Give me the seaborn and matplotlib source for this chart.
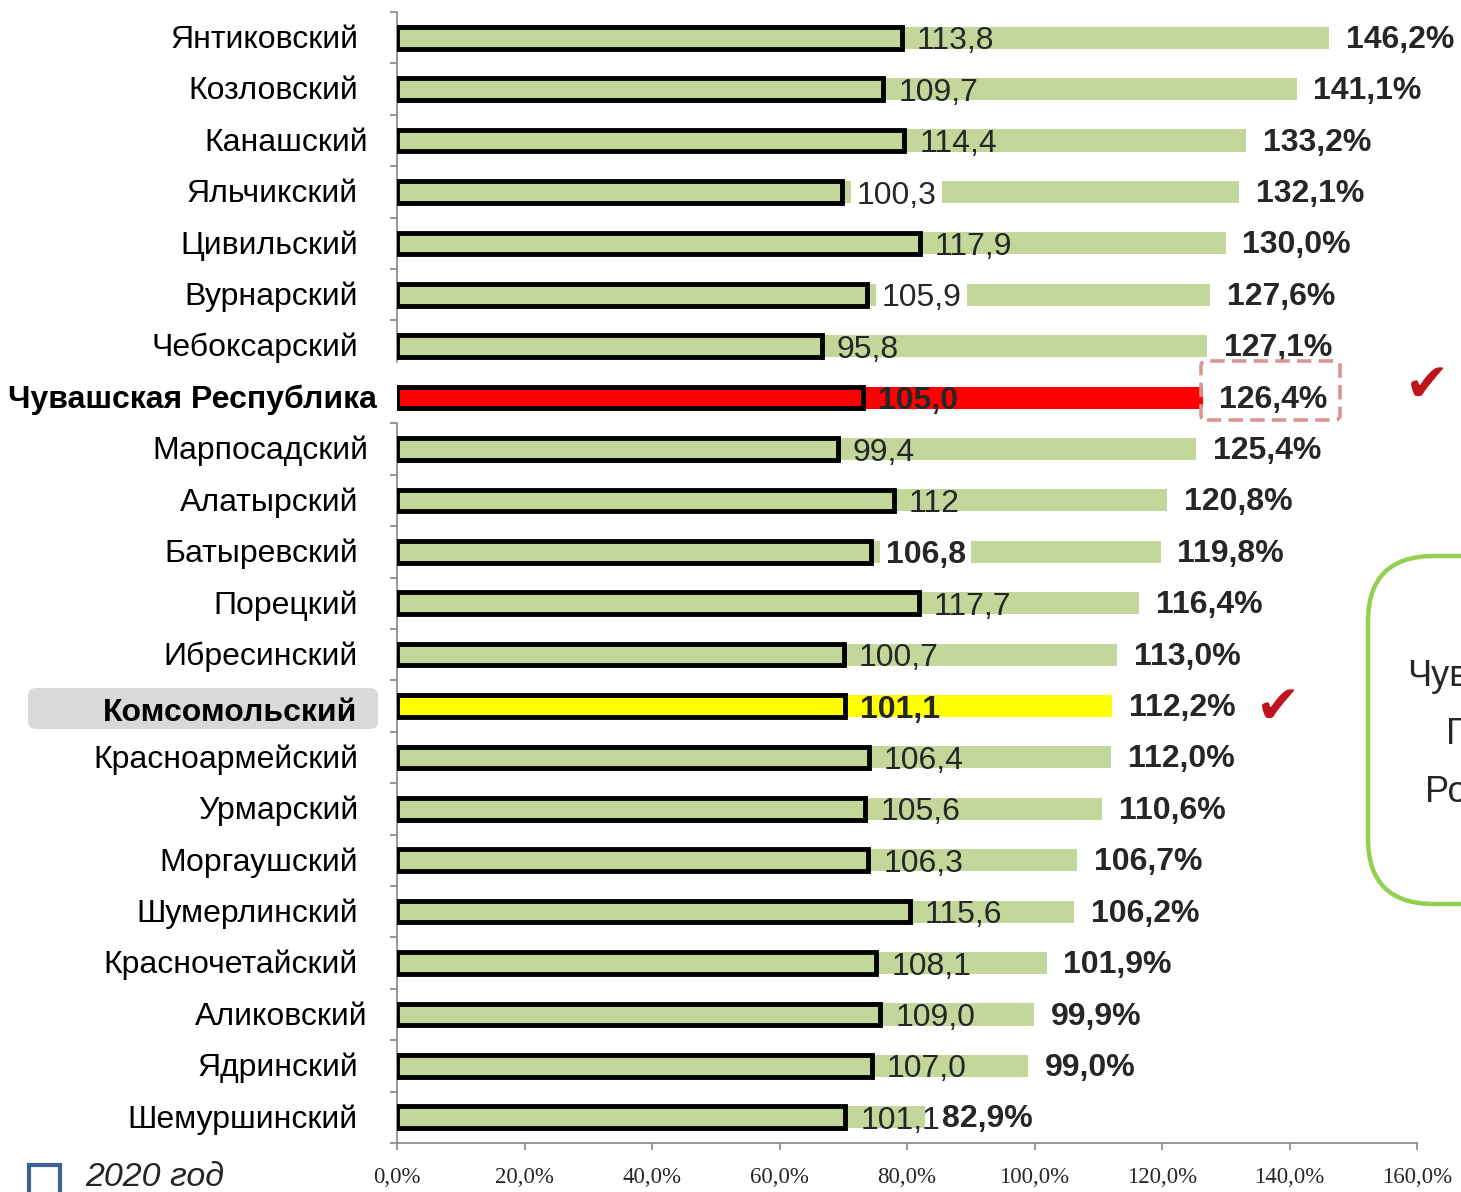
import matplotlib
matplotlib.use("Agg")
import matplotlib.pyplot as plt
import seaborn as sns
import pandas as pd
from matplotlib.patches import FancyBboxPatch, Rectangle
from matplotlib.ticker import FixedLocator, FuncFormatter

# %% data
districts = ["Янтиковский", "Козловский", "Канашский", "Яльчикский", "Цивильский",
             "Вурнарский", "Чебоксарский", "Чувашская Республика", "Марпосадский",
             "Алатырский", "Батыревский", "Порецкий", "Ибресинский", "Комсомольский",
             "Красноармейский", "Урмарский", "Моргаушский", "Шумерлинский",
             "Красночетайский", "Аликовский", "Ядринский", "Шемуршинский"]
pct = [146.2, 141.1, 133.2, 132.1, 130.0, 127.6, 127.1, 126.4, 125.4, 120.8, 119.8,
       116.4, 113.0, 112.2, 112.0, 110.6, 106.7, 106.2, 101.9, 99.9, 99.0, 82.9]
v2020 = [113.8, 109.7, 114.4, 100.3, 117.9, 105.9, 95.8, 105.0, 99.4, 112.0, 106.8,
         117.7, 100.7, 101.1, 106.4, 105.6, 106.3, 115.6, 108.1, 109.0, 107.0, 101.1]
v2020_labels = ["113,8", "109,7", "114,4", "100,3", "117,9", "105,9", "95,8", "105,0",
                "99,4", "112", "106,8", "117,7", "100,7", "101,1", "106,4", "105,6",
                "106,3", "115,6", "108,1", "109,0", "107,0", "101,1"]
x_ticks = [0, 20, 40, 60, 80, 100, 120, 140, 160]

region = "Чувашская Республика"
ours = "Комсомольский"

df = pd.DataFrame({"district": districts, "pct": pct, "v2020": v2020})

GREEN = "#c4d79b"
colors = {d: GREEN for d in districts}
colors[region] = "#ff0000"
colors[ours] = "#ffff00"

# %% figure
sns.set_style("white")
plt.rcParams["font.family"] = ["Liberation Sans", "DejaVu Sans"]

W, H = 1461, 1192
fig = plt.figure(figsize=(W / 100, H / 100), dpi=100)
ax = fig.add_axes([397 / W, 1 - 1143 / H, 1020 / W, 1131 / H])

def fx(px):
    return px / W

def fy(py):
    return 1 - py / H

# growth bars (%)
sns.barplot(data=df, x="pct", y="district", hue="district", palette=colors,
            legend=False, orient="h", width=0.43, saturation=1, errorbar=None,
            linewidth=0, ax=ax)

# 2020 bars on a hidden secondary scale
ax2 = ax.twiny()
sns.barplot(data=df, x="v2020", y="district", hue="district", palette=colors,
            legend=False, orient="h", width=0.42, saturation=1, errorbar=None,
            edgecolor="black", linewidth=3.5, ax=ax2)

ax.set_xlim(0, 160)
ax2.set_xlim(0, 230)
ax.set_ylim(len(districts) - 0.5, -0.5)
ax.set_xlabel("")
ax.set_ylabel("")
ax2.set_xlabel("")
ax2.set_ylabel("")
ax2.xaxis.set_visible(False)
for s in ax2.spines.values():
    s.set_visible(False)

# axes styling
AXC = "#868686"
for s in ["top", "right", "left"]:
    ax.spines[s].set_visible(False)
ax.spines["bottom"].set_color(AXC)
ax.spines["bottom"].set_linewidth(1.2)
ax.set_xticks(x_ticks)
ax.xaxis.set_major_formatter(FuncFormatter(lambda v, p: f"{v:.1f}%".replace(".", ",")))
ax.tick_params(axis="x", direction="out", length=5, width=1.2, color=AXC, pad=12,
               labelsize=16.5, bottom=True)
for t in ax.get_xticklabels():
    t.set_fontfamily("Liberation Serif")

# left axis with a gap at the republic row
ax.set_yticks(range(len(districts)), labels=[])
ax.tick_params(axis="y", which="major", length=0)
minor = [i - 0.5 for i in range(len(districts) + 1) if i != 7]
ax.yaxis.set_minor_locator(FixedLocator(minor))
ax.tick_params(axis="y", which="minor", direction="out", length=5, width=1.2,
               color=AXC, left=True)
yt = ax.get_yaxis_transform()
ax.plot([0, 0], [-0.5, 6.3], color=AXC, lw=1.2, transform=yt, clip_on=False)
ax.plot([0, 0], [7.5, len(districts) - 0.5], color=AXC, lw=1.2, transform=yt,
        clip_on=False)

# category labels
shift = {"Канашский": 10, "Марпосадский": 10, "Аликовский": 10}
for i, d in enumerate(districts):
    dy = 0.04
    if d == region:
        right, weight = 377, "bold"
    elif d == ours:
        right, weight, dy = 357, "bold", 0.14
    else:
        right, weight = 358 + shift.get(d, 0), "normal"
    ax.text((right - 397) / 1020, i + dy, d, transform=yt, ha="right", va="center",
            fontsize=23, fontweight=weight, color="black")

fig.patches.append(FancyBboxPatch((fx(28), fy(729)), fx(350), 41 / H,
                                  boxstyle="round,pad=0,rounding_size=0.006",
                                  transform=fig.transFigure, facecolor="#d9d9d9",
                                  edgecolor="none", zorder=-1))

# value labels
bold_2020 = {region, "Батыревский", ours}
boxed_2020 = {"Яльчикский", "Вурнарский", "Батыревский"}
for i, (d, v, lab) in enumerate(zip(districts, v2020, v2020_labels)):
    kw = {}
    if d in boxed_2020:
        kw["bbox"] = dict(facecolor="white", edgecolor="none", pad=4)
    ax2.text(v + 3.4, i + 0.07, lab, ha="left", va="center", fontsize=23,
             fontweight="bold" if d in bold_2020 else "normal", zorder=5, **kw)
for i, p in enumerate(pct):
    ax2.text(p + 2.6, i + 0.04, f"{p:.1f}%".replace(".", ","), transform=ax.transData,
             ha="left", va="center", fontsize=23, fontweight="bold", zorder=6)

# dashed frame round the republic value
fig.patches.append(FancyBboxPatch((fx(1201), fy(420)), 139 / W, 59 / H,
                                  boxstyle="round,pad=0,rounding_size=0.004",
                                  transform=fig.transFigure, facecolor="none",
                                  edgecolor="#d99694", lw=2.6, linestyle=(0, (4, 2))))

# check marks
for x, y in [(1427, 386), (1278, 708)]:
    fig.text(fx(x), fy(y), "\u2714", ha="center", va="center", fontsize=38,
             color="#c0141c", family="DejaVu Sans")

# side note box (cut by the slide edge, as in the source slide)
fig.patches.append(FancyBboxPatch((fx(1368), fy(904)), 250 / W, 348 / H,
                                  boxstyle="round,pad=0,rounding_size=0.045",
                                  transform=fig.transFigure, facecolor="white",
                                  edgecolor="#92d050", lw=3.2, mutation_aspect=W / H))
fig.text(fx(1407), fy(676), "Чувашия", ha="left", va="center", fontsize=26)
fig.text(fx(1446), fy(735), "Город", ha="left", va="center", fontsize=26)
fig.text(fx(1425), fy(793), "Россия", ha="left", va="center", fontsize=26)

# legend
fig.patches.append(Rectangle((fx(29), fy(1195)), 31 / W, 30 / H,
                             transform=fig.transFigure, facecolor="none",
                             edgecolor="#3d6192", lw=3))
fig.text(fx(85), fy(1177), "2020 год", ha="left", va="center", fontsize=24.5,
         style="italic")

fig.savefig("out.png", dpi=100)
